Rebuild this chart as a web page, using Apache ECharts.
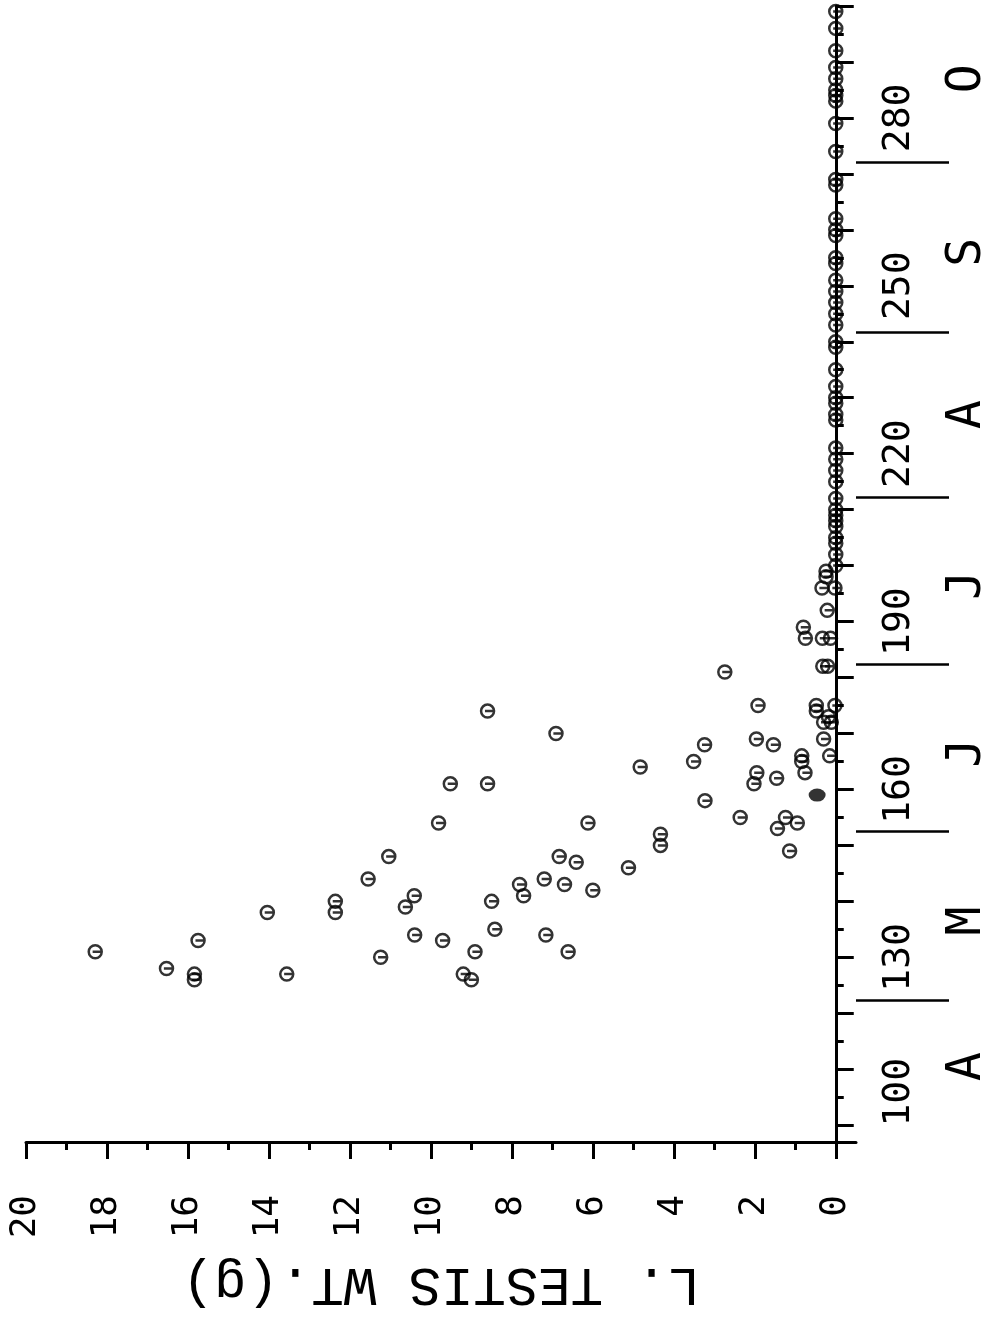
<!DOCTYPE html>
<html>
<head>
<meta charset="utf-8">
<script src="https://cdn.jsdelivr.net/npm/echarts@6/dist/echarts.min.js"></script>
<style>
  html, body { margin: 0; padding: 0; background: #fff; }
  #chart { width: 991px; height: 1317px; }
</style>
</head>
<body>
<div id="chart"></div>
<script>
// Left testis weight (g) by day of year, April to October.

// Spring / early summer birds: day of year and left testis weight (g)
const scatterDays = [
  174, 170, 175, 168, 165, 164, 161, 161, 158, 155,
  154, 154, 152, 150, 148, 147, 146, 143, 141, 144,
  143, 142, 140, 135, 134, 133, 131, 131, 127, 126,
  148, 144, 141, 139, 140, 138, 138, 134, 130, 131,
  133, 128, 127, 126, 127, 181, 168, 169, 169, 166,
  166, 165, 163, 163, 161, 162, 155, 154, 153, 149,
  175, 175, 174, 173, 172, 172, 199, 198, 196, 196,
  192, 189, 187, 187, 187, 182, 182
];
const scatterWeights = [
  8.60, 6.91, 1.92, 3.24, 3.51, 4.83, 9.52, 8.60, 3.23, 2.36,
  9.81, 6.12, 4.33, 4.33, 6.83, 6.41, 5.12, 7.81, 7.71, 7.20,
  6.70, 6.00, 8.50, 8.42, 7.16, 9.71, 8.91, 6.61, 9.20, 9.00,
  11.04, 11.55, 10.41, 10.63, 12.36, 12.36, 14.04, 10.40, 11.24, 18.29,
  15.75, 16.53, 15.84, 15.84, 13.56, 2.74, 1.54, 1.96, 0.30, 0.15,
  0.84, 0.84, 0.76, 1.95, 2.02, 1.46, 1.24, 0.95, 1.44, 1.14,
  0.48, 0.02, 0.48, 0.18, 0.30, 0.11, 0.24, 0.24, 0.34, 0.02,
  0.21, 0.80, 0.75, 0.33, 0.13, 0.32, 0.20
];

// Late summer / autumn birds with regressed testes
const lateDays = [
  299, 296, 292, 289, 287, 285, 284, 283, 279, 274,
  269, 268, 262, 260, 259, 255, 254, 251, 249, 247,
  245, 243, 240, 239, 235, 232, 230, 229, 227, 226,
  221, 219, 217, 215, 212, 210, 209, 208, 207, 205,
  204, 202, 200
];
const lateWeights = [
  0, 0, 0, 0, 0, 0, 0, 0, 0, 0,
  0, 0, 0, 0, 0, 0, 0, 0, 0, 0,
  0, 0, 0, 0, 0, 0, 0, 0, 0, 0,
  0, 0, 0, 0, 0, 0, 0, 0, 0, 0,
  0, 0, 0
];

// Single bird marked with a solid symbol
const solidDays = [159];
const solidWeights = [0.46];

// Axis ticks and labels
const weightMajorTicks = [0, 2, 4, 6, 8, 10, 12, 14, 16, 18, 20];
const weightMinorTicks = [1, 3, 5, 7, 9, 11, 13, 15, 17, 19];
const dayMajorTicks = [100, 110, 120, 130, 140, 150, 160, 170, 180, 190, 200,
                       210, 220, 230, 240, 250, 260, 270, 280, 290, 300];
const dayMinorTicks = [105, 115, 125, 135, 145, 155, 165, 175, 185, 195,
                       205, 215, 225, 235, 245, 255, 265, 275, 285, 295];
const dayLabels = [100, 130, 160, 190, 220, 250, 280];
const monthBounds = [122.3, 152.5, 182.4, 212.2, 241.7, 272.1];
const monthMids = [110.5, 136.5, 166.5, 196.5, 227, 256, 287];
const monthLetters = ['A', 'M', 'J', 'J', 'A', 'S', 'O'];

const FONT = "'DejaVu Sans Mono', 'Liberation Mono', monospace";
const NAME_FONT = "'Liberation Mono', 'DejaVu Sans Mono', monospace";
const INK = '#000';

// Open circle with a bar through the middle
const RING = 'path://M0,10 A10,10 0 1 1 20,10 A10,10 0 1 1 0,10 Z M6,10 L20,10';

const weightBase = {
  type: 'value', min: -0.5, max: 20, inverse: true, position: 'bottom',
  splitLine: { show: false }, offset: 0
};
const dayBase = {
  type: 'value', min: 97, max: 300, position: 'right',
  splitLine: { show: false }, offset: 0
};

const ringStyle = { color: 'rgba(0,0,0,0)', borderColor: INK, borderWidth: 2.5 };

const option = {
  animation: false,
  backgroundColor: '#fff',
  grid: { left: 26, right: 135, top: 6, bottom: 175, containLabel: false, outerBoundsMode: 'none' },
  xAxis: [
    Object.assign({}, weightBase, {
      name: 'L. TESTIS WT.(g)',
      nameLocation: 'middle',
      nameRotate: 180,
      nameGap: 114,
      nameTextStyle: { fontFamily: NAME_FONT, fontSize: 54, color: INK },
      axisLine: { show: true, lineStyle: { color: INK, width: 3 } },
      axisTick: { show: true, customValues: weightMajorTicks, length: 17, lineStyle: { color: INK, width: 3 } },
      axisLabel: { show: true, customValues: weightMajorTicks, rotate: 90, margin: 53,
                   fontFamily: FONT, fontSize: 36, color: INK }
    }),
    Object.assign({}, weightBase, {
      axisLine: { show: false },
      axisTick: { show: true, customValues: weightMinorTicks, length: 8, lineStyle: { color: INK, width: 3 } },
      axisLabel: { show: false }
    })
  ],
  yAxis: [
    Object.assign({}, dayBase, {
      axisLine: { show: true, lineStyle: { color: INK, width: 3 } },
      axisTick: { show: true, customValues: dayMajorTicks, length: 18, lineStyle: { color: INK, width: 3 } },
      axisLabel: {
        show: true, customValues: dayLabels, rotate: 90, margin: 24,
        fontFamily: FONT, fontSize: 38, color: INK,
        formatter: function (v) { return v === dayLabels[0] ? '{lead|' + v + '}' : String(v); },
        rich: { lead: { fontFamily: FONT, fontSize: 38, color: INK, padding: [0, 0, 0, 66] } }
      }
    }),
    Object.assign({}, dayBase, {
      axisLine: { show: false },
      axisTick: { show: true, customValues: dayMinorTicks, length: 8, lineStyle: { color: INK, width: 3 } },
      axisLabel: { show: false }
    }),
    Object.assign({}, dayBase, {
      axisLine: { show: false },
      axisTick: { show: true, customValues: monthBounds, length: 93, lineStyle: { color: INK, width: 2.5 } },
      axisLabel: { show: false }
    }),
    Object.assign({}, dayBase, {
      axisLine: { show: false },
      axisTick: { show: false },
      axisLabel: {
        show: true, customValues: monthMids, rotate: 90, margin: 88,
        fontFamily: FONT, fontSize: 48, color: INK,
        formatter: function (v) { return monthLetters[monthMids.indexOf(v)] || ''; }
      }
    })
  ],
  series: [
    {
      type: 'scatter', silent: true, xAxisIndex: 0, yAxisIndex: 0,
      symbol: RING, symbolSize: 13, itemStyle: ringStyle,
      data: scatterDays.map(function (d, i) { return [scatterWeights[i], d]; })
    },
    {
      type: 'scatter', silent: true, xAxisIndex: 0, yAxisIndex: 0,
      symbol: RING, symbolSize: 13, itemStyle: ringStyle,
      data: lateDays.map(function (d, i) { return [lateWeights[i], d]; })
    },
    {
      type: 'scatter', silent: true, xAxisIndex: 0, yAxisIndex: 0,
      symbol: 'circle', symbolSize: [17, 13],
      itemStyle: { color: INK },
      data: solidDays.map(function (d, i) { return [solidWeights[i], d]; })
    }
  ]
};

const chart = echarts.init(document.getElementById('chart'), null, { renderer: 'canvas' });
chart.setOption(option);
</script>
</body>
</html>
